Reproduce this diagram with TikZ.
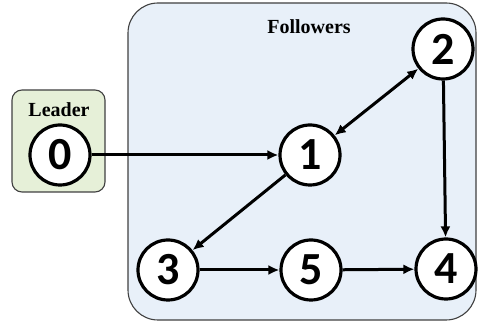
\documentclass[tikz,border=0pt]{standalone}
\usepackage{fontspec}
\setmainfont{Liberation Serif}
\newfontfamily\numfont{Carlito}
\usetikzlibrary{arrows.meta}
\begin{document}
\begin{tikzpicture}[x=1pt,y=-1pt,
  vert/.style={circle,draw=black,line width=3.2pt,fill=white,minimum size=60pt,inner sep=0pt,font=\numfont\bfseries\fontsize{46}{48}\selectfont},
  edge/.style={line width=3pt,-{Latex[length=11pt,width=10pt]}},
  grp/.style={draw=black!75,line width=1.1pt,rounded corners=#1},
  lbl/.style={font=\bfseries\fontsize{#1}{#1}\selectfont}]
\useasboundingbox (0,0) rectangle (480,323);
\draw[grp=30pt,fill={rgb,255:red,232;green,240;blue,249}] (128,3) rectangle (476,320);
\draw[grp=10pt,fill={rgb,255:red,230;green,240;blue,216}] (12,90) rectangle (105,192);
\node[lbl=20] (lt) at (59,110) {Leader};
\node[lbl=20] (ft) at (309,27) {Followers};
\node[vert] (n0) at (60,155) {0};
\node[vert] (n1) at (310,155) {1};
\node[vert] (n2) at (443,49) {2};
\node[vert] (n3) at (168,270) {3};
\node[vert] (n5) at (311,270) {5};
\node[vert] (n4) at (446,269) {4};
\draw[edge] (n0) -- (n1);
\draw[edge,{Latex[length=11pt,width=10pt]}-{Latex[length=11pt,width=10pt]}] (n1) -- (n2);
\draw[edge] (n1) -- (n3);
\draw[edge] (n2) -- (n4);
\draw[edge] (n3) -- (n5);
\draw[edge] (n5) -- (n4);
\end{tikzpicture}
\end{document}
